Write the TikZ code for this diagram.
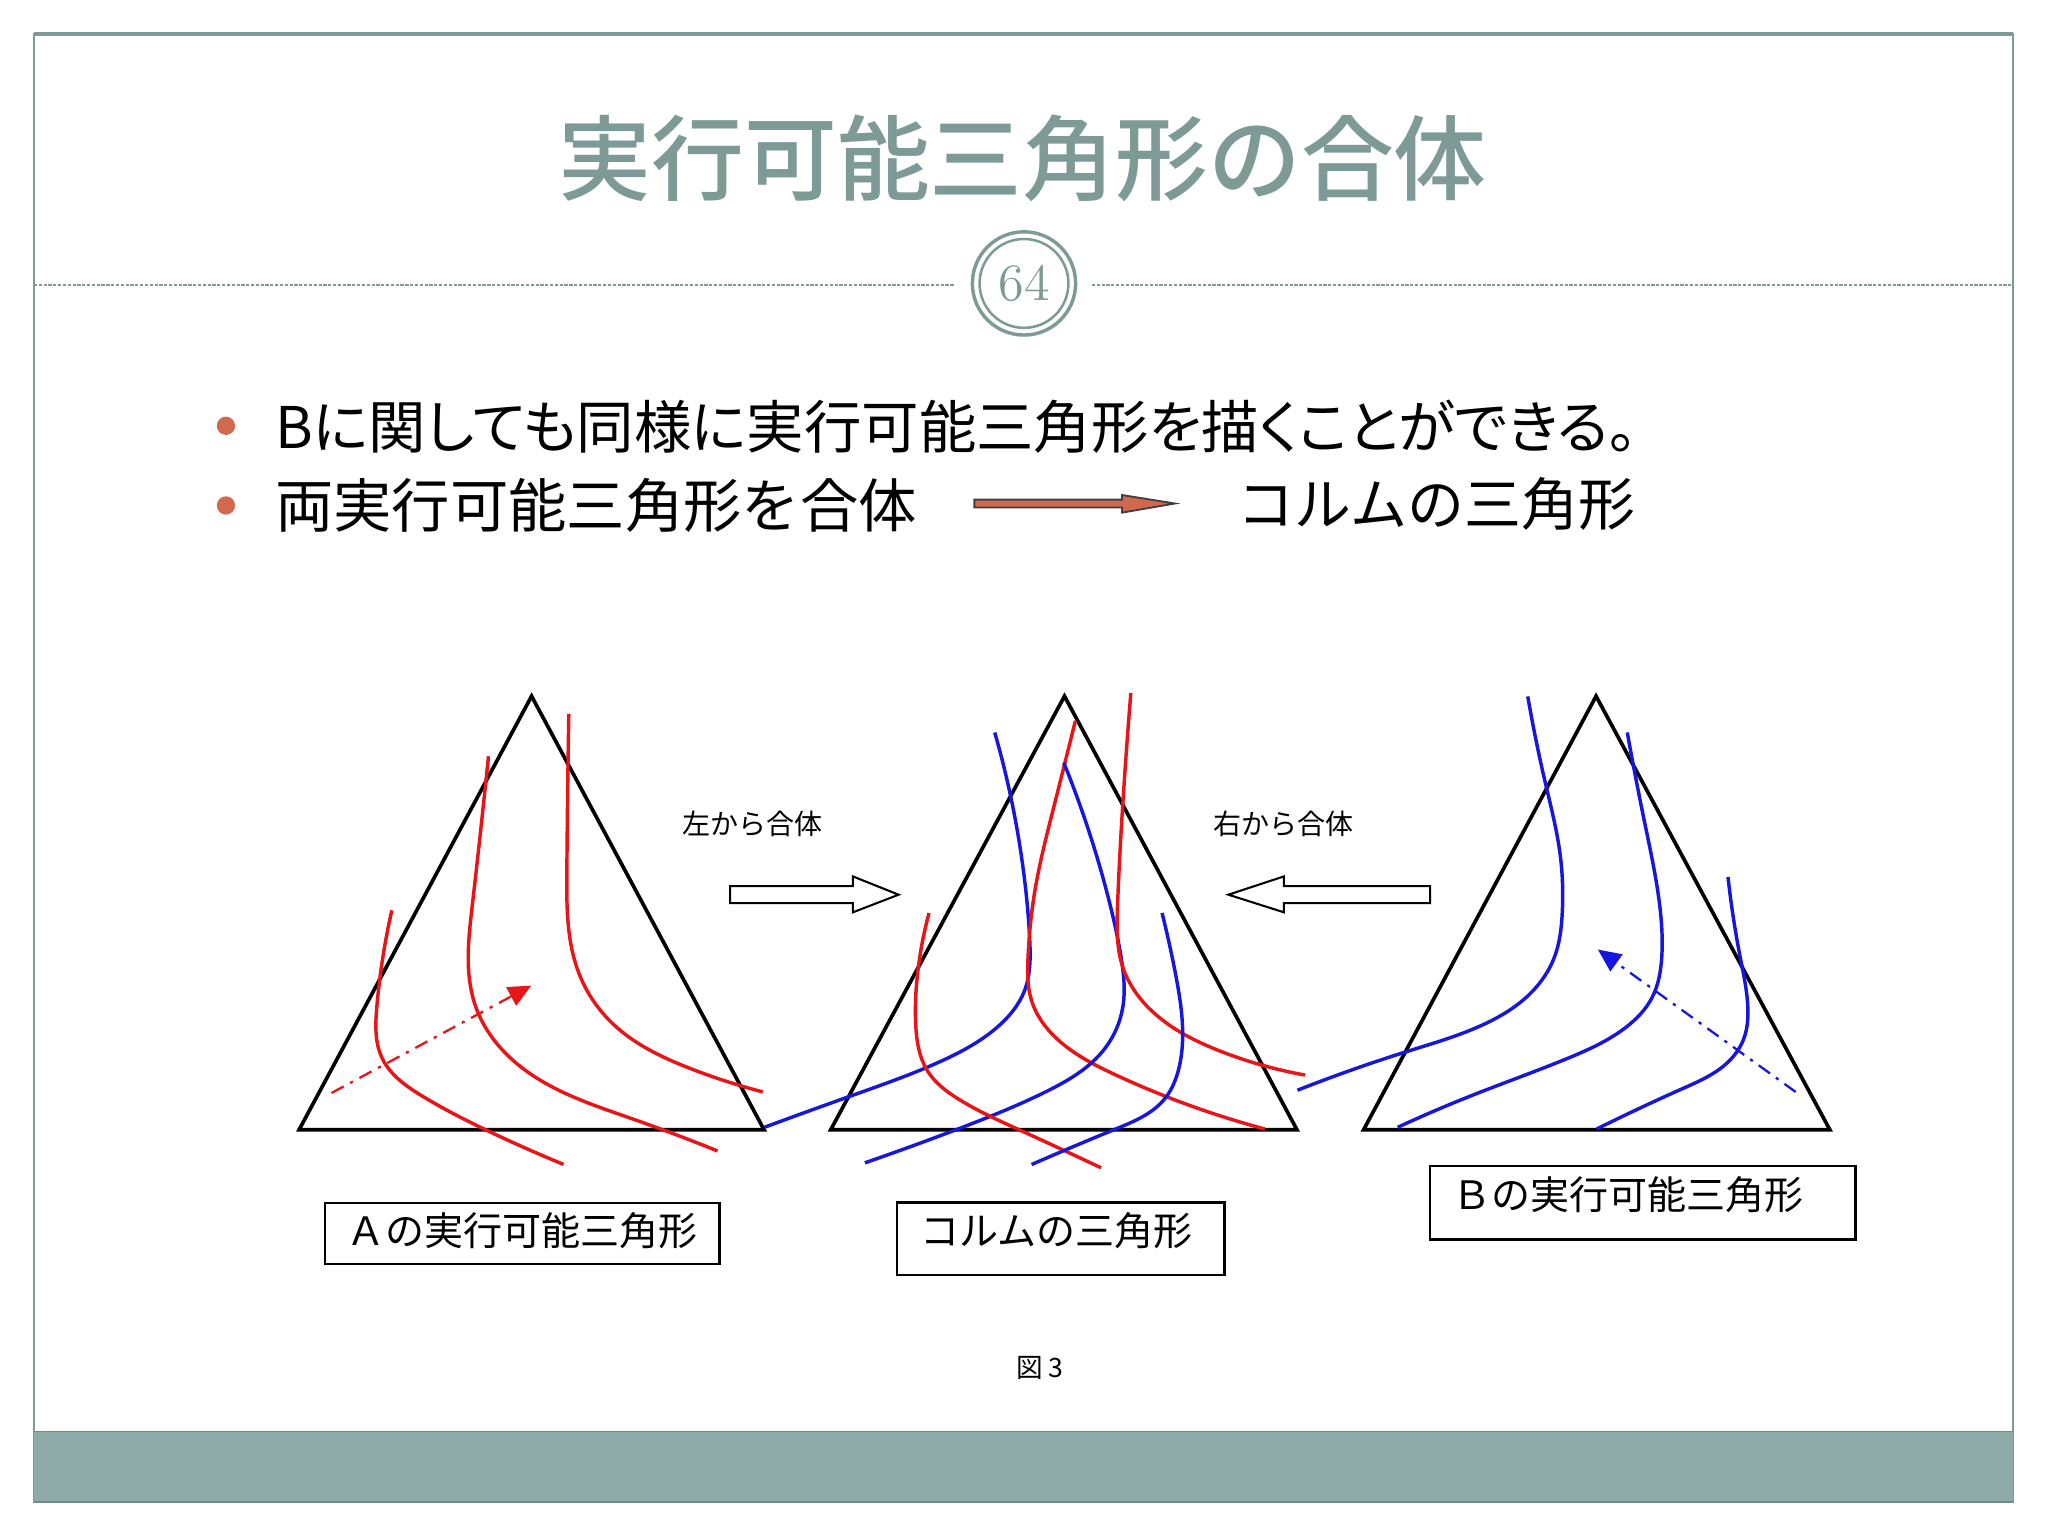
\documentclass[tikz,border=0pt]{standalone}
\usepackage{fontspec}
\newfontfamily\jp{Noto Sans CJK JP}
\newfontfamily\jpp{Noto Sans CJK JP}[RawFeature=+palt]
\newfontfamily\jpt{Noto Sans CJK JP Medium}
\usetikzlibrary{arrows.meta,hobby}
\definecolor{slidegray}{HTML}{7D9A96}
\definecolor{barteal}{HTML}{8EABA9}
\definecolor{bulletcol}{HTML}{D2694F}
\definecolor{curvered}{RGB}{232,20,24}
\definecolor{curveblue}{RGB}{22,22,222}
\tikzset{
  tri/.style={draw=black, line width=0.8pt, line join=miter},
  rcurve/.style={draw=curvered, line width=0.75pt, use Hobby shortcut},
  bcurve/.style={draw=curveblue, line width=0.75pt, use Hobby shortcut},
  dashdot/.style={line width=0.5pt, dash pattern=on 3pt off 1.6pt on 0.7pt off 1.6pt},
  blockarrow/.style={draw=black, fill=white, line width=0.45pt},
  labbox/.style={draw=black, line width=0.5pt, inner sep=0pt},
  lab/.style={font=\jp\fontsize{8.5}{10}\selectfont, inner sep=0pt},
  small/.style={font=\jp\fontsize{6.1}{7}\selectfont, inner sep=0pt},
  bullettext/.style={font=\jpp\fontsize{12.5}{15}\selectfont, inner sep=0pt, anchor=west},
  dashline/.style={draw=slidegray, line width=0.4pt, dash pattern=on 0.7pt off 0.35pt},
}
\begin{document}
\begin{tikzpicture}[x=0.01cm, y=-0.01cm]
\useasboundingbox (0,0) rectangle (1568,1176);
\fill[white] (0,0) rectangle (1568,1176);
% frame
\draw[slidegray, line width=0.35pt] (26,26) rectangle (1541,1150);
\draw[slidegray, line width=0.9pt] (26,26) -- (1541,26);
\fill[barteal] (26,1096) rectangle (1541,1150);
\draw[slidegray!90!black, line width=0.4pt] (26,1096) -- (1541,1096);
\draw[slidegray!90!black, line width=0.4pt] (26,1150) -- (1541,1150);
% title
\node[font=\jpt\fontsize{20.2}{24}\selectfont, text=slidegray, inner sep=0pt] (title) at (783,121) {実行可能三角形の合体};
% dashed rule and page circle
\coordinate (dl0) at (26,218); \coordinate (dl1) at (731,218);
\coordinate (dr0) at (836,218); \coordinate (dr1) at (1541,218);
\draw[dashline] (dl0) -- (dl1);
\draw[dashline] (dr0) -- (dr1);
\node[circle, draw=slidegray, line width=0.75pt, minimum size=0.79cm, inner sep=0pt] (pgout) at (784,217) {};
\node[circle, draw=slidegray, line width=0.55pt, minimum size=0.68cm, inner sep=0pt, text=slidegray, font=\fontsize{11.4}{12}\selectfont] (pg) at (784,217) {64};
% bullets
\fill[bulletcol] (173,326) circle[radius=0.07cm];
\fill[bulletcol] (173,387) circle[radius=0.07cm];
\node[bullettext] (line1) at (210,327) {Bに関しても同様に実行可能三角形を描くことができる。};
\node[bullettext, font=\jp\fontsize{12.7}{15}\selectfont] (line2) at (210,387) {両実行可能三角形を合体};
\node[bullettext, font=\jp\fontsize{12.4}{15}\selectfont] (colum) at (947,386) {コルムの三角形};
\coordinate (oa0) at (746,382.5);
\filldraw[fill=bulletcol, draw=black!75, line width=0.4pt] (oa0) -- (859,382.5) -- (859,379) -- (899.6,385.5) -- (859,392.5) -- (859,388.5) -- (746,388.5) -- cycle;
% triangles
\draw[tri] (407,533) -- (585,865) -- (229,865) -- cycle;
\draw[tri] (815,533) -- (993,865) -- (636,865) -- cycle;
\draw[tri] (1222,533) -- (1401,865) -- (1044,865) -- cycle;
% triangle A curves
\draw[rcurve] (300,697) .. (288.5,771) .. (292.5,810) .. (323,839) .. (376,867) .. (431.5,891.5);
\draw[rcurve] (374,579) .. (361.5,694) .. (364.3,771) .. (396.5,815) .. (484.4,856.7) .. (549.4,881.2);
\draw[rcurve] (435.5,546.6) .. (434,668) .. (443.4,745.6) .. (469.7,784.3) .. (528.3,818) .. (584,836);
\coordinate (ra0) at (253.8,836.8); \coordinate (ra1) at (406.8,754.6);
\draw[dashdot, draw=curvered, -{Triangle[length=5pt,width=4.5pt]}] (ra0) -- (ra1);
% middle triangle curves
\draw[bcurve] (761.6,560.8) .. (784.4,673.2) .. (788.4,719.7) .. (784.4,758.5) .. (763,786.9) .. (720,812.7) .. (652.8,838.6) .. (585.5,863);
\draw[rcurve] (823.4,551.8) .. (805.9,621.5) .. (792.5,681) .. (787.1,732.6) .. (789.8,766.2) .. (811.3,797.2) .. (854.2,823) .. (968.4,864.4);
\draw[bcurve] (814.5,584) .. (848.9,688.7) .. (858.3,732.6) .. (859.6,771.4) .. (846.2,802.4) .. (800.5,836) .. (733.4,864.4) .. (662.2,890.3);
\draw[rcurve] (865.8,530.6) .. (859.6,616.4) .. (855.6,693.9) .. (859.6,740.4) .. (870.4,761.1) .. (894.5,784.3) .. (934.8,805) .. (999.3,823.1);
\draw[rcurve] (711.3,699) .. (702.5,745.6) .. (701.1,784.3) .. (710.5,820.5) .. (733.4,841.2) .. (779,864.4) .. (843,894.1);
\draw[bcurve] (889.7,699) .. (900,745.6) .. (905.3,784.3) .. (902.6,817.9) .. (891.8,841.2) .. (854.2,864.4) .. (789.8,891.6);
% triangle B curves
\draw[bcurve] (1169.7,533.2) .. (1182.9,598.3) .. (1194.6,655.1) .. (1196.1,699) .. (1190.2,732.6) .. (1171.2,761.1) .. (1136,784.3) .. (1077.4,805) .. (993.4,834.7);
\draw[bcurve] (1245.9,560.8) .. (1259.1,629.3) .. (1270.8,693.9) .. (1272.3,732.6) .. (1264.9,763.7) .. (1244.4,786.9) .. (1200.5,810.2) .. (1127.2,838.6) .. (1070.1,863.1);
\draw[bcurve] (1323,671.4) .. (1332.3,732.6) .. (1338.2,771.4) .. (1335.3,794.7) .. (1323.5,812.7) .. (1288.4,833.4) .. (1222.5,864.4);
\coordinate (ba0) at (1374.8,836); \coordinate (ba1) at (1223.4,727);
\draw[dashdot, draw=curveblue, -{Triangle[length=5pt,width=4.5pt]}] (ba0) -- (ba1);
% block arrows and labels
\node[small] (leftlab) at (576,631) {左から合体};
\node[small] (rightlab) at (983,631) {右から合体};
\coordinate (la0) at (559,678.5);
\draw[blockarrow] (la0) -- (653,678.5) -- (653,671) -- (688,685) -- (653,698.5) -- (653,691.5) -- (559,691.5) -- cycle;
\coordinate (rb0) at (1095,678.5);
\draw[blockarrow] (rb0) -- (983,678.5) -- (983,671) -- (940.5,685) -- (983,698.5) -- (983,691.5) -- (1095,691.5) -- cycle;
% label boxes
\draw[labbox] (248.8,920.8) rectangle (550.9,967.8);
\node[lab] (labA) at (399.5,942) {Ａの実行可能三角形};
\draw[labbox] (686.5,920.6) rectangle (937.6,976.2);
\node[lab] (labC) at (809,942) {コルムの三角形};
\draw[labbox] (1094.9,892.8) rectangle (1420.6,948.9);
\node[lab] (labB) at (1246.5,915) {Ｂの実行可能三角形};
% caption
\node[font=\jp\fontsize{5.8}{7}\selectfont, inner sep=0pt] (cap) at (796,1047) {図\hspace{0.2em}3};
\end{tikzpicture}
\end{document}
